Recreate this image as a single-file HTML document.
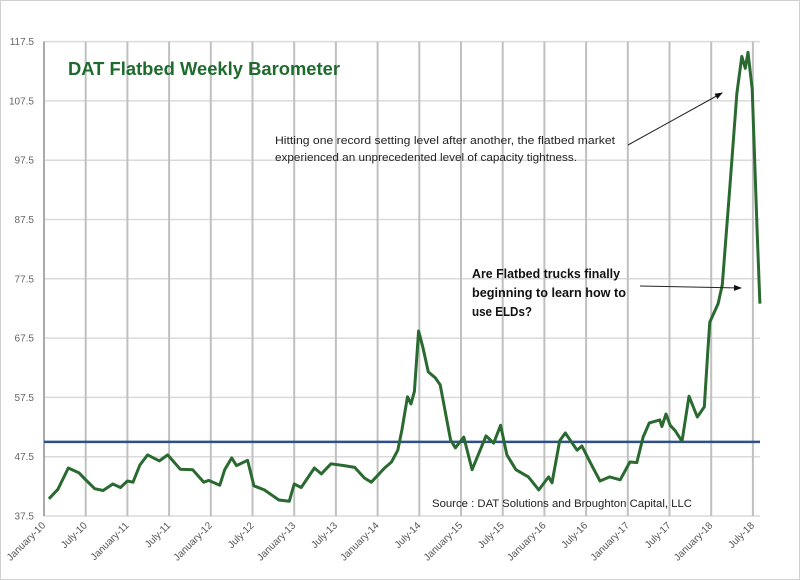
<!DOCTYPE html>
<html><head><meta charset="utf-8"><style>
html,body{margin:0;padding:0;background:#fff;}
svg{display:block;font-family:"Liberation Sans",sans-serif;}
</style></head><body>
<svg id="chart" width="800" height="580" viewBox="0 0 800 580">
<rect x="0.5" y="0.5" width="799" height="579" fill="#fff" stroke="#d0d0d0"/>
<g id="grid"></g>
<g id="axes"></g>
<line id="baseline" stroke="#2e4f8c" stroke-width="2.5"/>
<path id="series" fill="none" stroke="#2a6a30" stroke-width="3" stroke-linejoin="round"/>
<text x="68" y="75" font-size="18" font-weight="bold" fill="#1e6b2e" textLength="272" lengthAdjust="spacingAndGlyphs">DAT Flatbed Weekly Barometer</text>
<text x="275" y="144" font-size="11" fill="#222" textLength="340" lengthAdjust="spacingAndGlyphs">Hitting one record setting level after another, the flatbed market</text>
<text x="275" y="161" font-size="11" fill="#222" textLength="302" lengthAdjust="spacingAndGlyphs">experienced an unprecedented level of capacity tightness.</text>
<defs><marker id="ah" markerWidth="8" markerHeight="6" refX="7" refY="3" orient="auto"><path d="M0,0 L8,3 L0,6 z" fill="#111"/></marker></defs>
<line x1="628" y1="145" x2="722" y2="93" stroke="#222" stroke-width="1" marker-end="url(#ah)"/>
<text x="472" y="278" font-size="12.5" font-weight="bold" fill="#111" textLength="148" lengthAdjust="spacingAndGlyphs">Are Flatbed trucks finally</text>
<text x="472" y="297" font-size="12.5" font-weight="bold" fill="#111" textLength="154" lengthAdjust="spacingAndGlyphs">beginning to learn how to</text>
<text x="472" y="316" font-size="12.5" font-weight="bold" fill="#111" textLength="60" lengthAdjust="spacingAndGlyphs">use ELDs?</text>
<line x1="640" y1="286" x2="741" y2="288" stroke="#222" stroke-width="1" marker-end="url(#ah)"/>
<text x="432" y="507" font-size="11" fill="#222" textLength="260" lengthAdjust="spacingAndGlyphs">Source : DAT Solutions and Broughton Capital, LLC</text>
</svg>
<script>
const yTicks = [37.5,47.5,57.5,67.5,77.5,87.5,97.5,107.5,117.5];
const xLabels = ["January-10","July-10","January-11","July-11","January-12","July-12","January-13","July-13","January-14","July-14","January-15","July-15","January-16","July-16","January-17","July-17","January-18","July-18"];
const baselineValue = 50;
const months = [0.7,2,3.5,5,6,7.3,8.5,9.9,11,12,12.8,13.8,14.9,16.6,17.8,19.6,21.4,23,23.7,25.3,26,27,27.7,29.3,30.2,31.7,33.8,35.3,36,37,38.9,39.9,41.3,43.2,44.7,46.1,47.1,49,50,50.9,51.5,52.3,52.8,53.3,53.9,54.5,55.3,56.3,57,58.5,59.2,60.4,61.6,63.6,64.7,65.7,66.6,67.9,69.7,71.2,72.6,73.1,74.2,75.0,76.7,77.4,78.6,80.0,81.4,82.9,84.3,85.3,86.2,87.1,88.6,88.9,89.5,90.1,90.8,91.8,92.8,94.0,95.0,95.5,95.8,97.0,97.6,98.7,99.7,100.4,100.9,101.3,101.9,102.6,103.0];
const values = [40.4,42,45.6,44.8,43.6,42.1,41.8,42.9,42.3,43.4,43.2,46.1,47.8,46.8,47.8,45.4,45.3,43.2,43.5,42.7,45.3,47.3,46,46.9,42.6,41.9,40.2,40,42.9,42.3,45.6,44.6,46.3,46,45.7,43.9,43.2,45.6,46.6,48.6,52,57.6,56.4,58.5,68.7,66,61.8,60.8,59.6,50.3,49,50.8,45.3,51,49.8,52.8,47.8,45.3,44.1,41.9,44.1,43.1,50.2,51.5,48.6,49.3,46.5,43.4,44.1,43.6,46.6,46.5,50.8,53.2,53.7,52.6,54.7,52.8,51.9,50.1,57.7,54.2,55.9,65,70.2,73.3,76.5,93.3,108.8,115,113,115.7,109.5,85.7,73.3];

const NS = "http://www.w3.org/2000/svg";
const X0 = 44, XSTEP = 41.7/6, PLOT_R = 760;
const Y0 = 516, YSCALE = 5.93;
function xs(m){ return X0 + m*XSTEP; }
function ys(v){ return Y0 - (v-37.5)*YSCALE; }
function mk(tag, attrs, parent){ const e=document.createElementNS(NS,tag); for(const k in attrs) e.setAttribute(k,attrs[k]); parent.appendChild(e); return e; }
const grid = document.getElementById('grid');
const axes = document.getElementById('axes');
yTicks.forEach(function(t){
  const l = mk('line',{x1:X0,x2:PLOT_R,y1:ys(t),y2:ys(t),stroke:'#dadada','stroke-width':1.5},grid);
  
  
  const tx = mk('text',{x:X0-10,y:ys(t)+3.5,'font-size':10,fill:'#666','text-anchor':'end'},axes);
  tx.textContent = t.toFixed(1);
  
  
});
xLabels.forEach(function(lab,i){
  const x = xs(i*6);
  const l = mk('line',{x1:x,x2:x,y1:ys(117.5),y2:Y0,stroke:'#c0c0c0','stroke-width':2},grid);
  
  
  const tx = mk('text',{x:x+2,y:Y0+10,'font-size':10,fill:'#555','text-anchor':'end',transform:'rotate(-45 '+(x+2)+' '+(Y0+10)+')'},axes);
  tx.textContent = lab;
  
  
});
const ax = mk('line',{x1:X0,x2:X0,y1:ys(117.5),y2:Y0,stroke:'#aaa','stroke-width':2},axes);


const bl = document.getElementById('baseline');
bl.setAttribute('x1',X0); bl.setAttribute('x2',PLOT_R);
bl.setAttribute('y1',ys(baselineValue)); bl.setAttribute('y2',ys(baselineValue));
let d='';
months.forEach(function(m,i){ d += (i?'L':'M')+xs(m).toFixed(1)+','+ys(values[i]).toFixed(1)+' '; });
document.getElementById('series').setAttribute('d',d);
</script>
</body></html>
